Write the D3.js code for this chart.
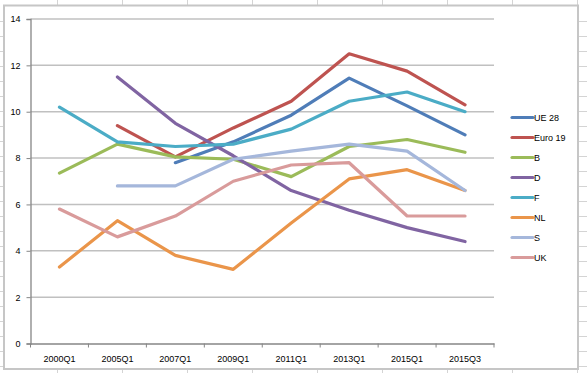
<!DOCTYPE html>
<html>
<head>
<meta charset="UTF-8">
<title>Chart</title>
<style>
  body { margin: 0; background: #fff; }
  svg { display: block; }
  text { font-family: "Liberation Sans", Arial, sans-serif; font-size: 9px; fill: #000; }
</style>
<script src="https://cdn.jsdelivr.net/npm/d3@7/dist/d3.min.js"></script>
</head>
<body>
<svg id="chart" width="587" height="373"></svg>
<script>
// categories on the x axis
var quarters = ["2000Q1", "2005Q1", "2007Q1", "2009Q1", "2011Q1", "2013Q1", "2015Q1", "2015Q3"]
var yTicks = [0, 2, 4, 6, 8, 10, 12, 14]

// one array per series, null where there is no value
var ue28   = [null, null, 7.8, 8.7, 9.85, 11.45, 10.25, 9.0]
var euro19 = [null, 9.4, 8.05, 9.3, 10.45, 12.5, 11.75, 10.3]
var b      = [7.35, 8.6, 8.05, 7.95, 7.2, 8.5, 8.8, 8.25]
var d      = [null, 11.5, 9.5, 8.1, 6.6, 5.75, 5.0, 4.4]
var f      = [10.2, 8.7, 8.5, 8.6, 9.25, 10.45, 10.85, 10.0]
var nl     = [3.3, 5.3, 3.8, 3.2, 5.2, 7.1, 7.5, 6.6]
var s      = [null, 6.8, 6.8, 7.95, 8.3, 8.6, 8.3, 6.6]
var uk     = [5.8, 4.6, 5.5, 7.0, 7.7, 7.8, 5.5, 5.5]

var seriesNames = ["UE 28", "Euro 19", "B", "D", "F", "NL", "S", "UK"]
var seriesValues = [ue28, euro19, b, d, f, nl, s, uk]
var seriesColors = ["#4F7DB8", "#BE5350", "#9BBB59", "#8064A2", "#4BACC6", "#EA954A", "#A5B7DB", "#D99B9B"]

var svg = d3.select("#chart")
var W = 587, H = 373

// spreadsheet cells behind the chart object
var sheet = svg.append("g").attr("stroke", "#d4d4d4").attr("stroke-width", 1)
for (var cx = 57.5; cx < W; cx += 65) {
  sheet.append("line").attr("x1", cx).attr("x2", cx).attr("y1", 0).attr("y2", H)
}
for (var ry = 21.5; ry < H; ry += 15) {
  sheet.append("line").attr("x1", 0).attr("x2", W).attr("y1", ry).attr("y2", ry)
}

// chart object
svg.append("rect")
  .attr("x", 4).attr("y", 5.5).attr("width", 574).attr("height", 363.5)
  .attr("fill", "#fff").attr("stroke", "#c6c6c6").attr("stroke-width", 2)

var plotLeft = 30.5, plotRight = 494, plotTop = 19, plotBottom = 343.5

var x = d3.scaleBand().domain(quarters).range([plotLeft, plotRight]).padding(0)
var y = d3.scaleLinear().domain([0, 14]).range([plotBottom, plotTop])

// horizontal gridlines
svg.append("g").selectAll("line").data(yTicks.filter(function(v) { return v > 0 }))
  .enter().append("line")
  .attr("x1", plotLeft).attr("x2", plotRight)
  .attr("y1", function(v) { return y(v) }).attr("y2", function(v) { return y(v) })
  .attr("stroke", "#c0c0c0").attr("stroke-width", 1.5)

// y axis
var yAxis = svg.append("g").attr("transform", "translate(" + plotLeft + ",0)")
  .call(d3.axisLeft(y).tickValues(yTicks).tickSize(4).tickPadding(6))
yAxis.select(".domain").attr("stroke", "#868686").attr("stroke-width", 1.3)
yAxis.selectAll(".tick line").attr("stroke", "#868686")
yAxis.selectAll("text").style("font-size", "9px").attr("font-family", null)

// x axis, ticks on the category boundaries
var xAxis = svg.append("g").attr("transform", "translate(0," + plotBottom + ")")
  .call(d3.axisBottom(x).tickSize(0).tickPadding(12))
xAxis.select(".domain").attr("stroke", "#868686").attr("stroke-width", 1.3)
xAxis.selectAll("text").style("font-size", "9px").attr("font-family", null)
xAxis.selectAll(".bound").data(quarters.concat(["end"])).enter().append("line")
  .attr("class", "bound")
  .attr("x1", function(q, i) { return plotLeft + i * x.bandwidth() })
  .attr("x2", function(q, i) { return plotLeft + i * x.bandwidth() })
  .attr("y1", 0).attr("y2", 4)
  .attr("stroke", "#868686")

// series lines
var line = d3.line()
  .defined(function(v) { return v !== null })
  .x(function(v, i) { return x(quarters[i]) + x.bandwidth() / 2 })
  .y(function(v) { return y(v) })

svg.append("g").selectAll("path").data(seriesValues).enter().append("path")
  .attr("d", line)
  .attr("fill", "none")
  .attr("stroke", function(v, i) { return seriesColors[i] })
  .attr("stroke-width", 3.2)
  .attr("stroke-linejoin", "round")
  .attr("stroke-linecap", "round")

// legend
var legend = svg.append("g").selectAll("g").data(seriesNames).enter().append("g")
  .attr("transform", function(n, i) { return "translate(512," + (117.5 + i * 20) + ")" })
legend.append("line")
  .attr("x1", 0).attr("x2", 21).attr("y1", 0).attr("y2", 0)
  .attr("stroke", function(n, i) { return seriesColors[i] })
  .attr("stroke-width", 3.2).attr("stroke-linecap", "round")
legend.append("text")
  .attr("x", 22).attr("y", 3.3)
  .text(function(n) { return n })
</script>
</body>
</html>
